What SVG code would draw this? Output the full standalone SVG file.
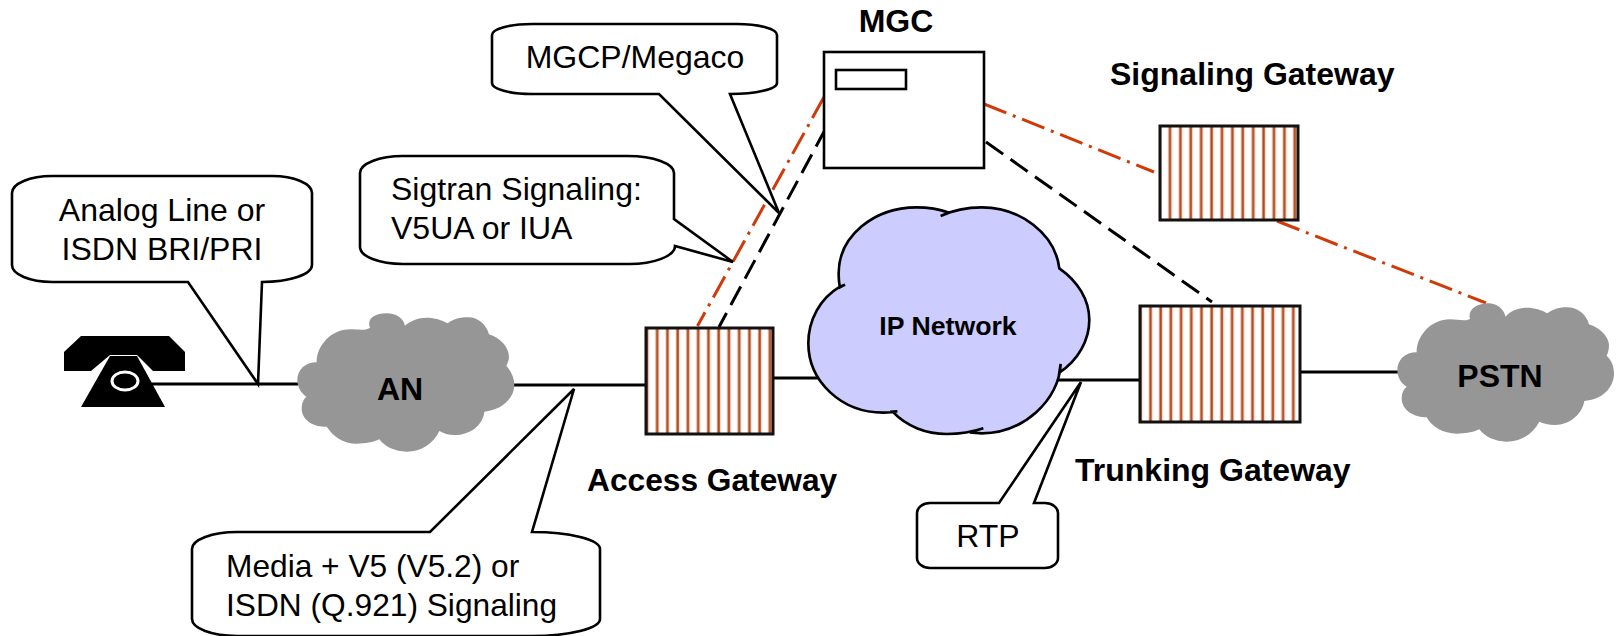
<svg xmlns="http://www.w3.org/2000/svg" width="1617" height="636" viewBox="0 0 1617 636">
<style>
text{font-family:"Liberation Sans",Arial,sans-serif;fill:#000}
.t{font-size:32px}
.b{font-size:32px;font-weight:bold}
.c{text-anchor:middle}
.call{fill:#fff;stroke:#000;stroke-width:2.600;stroke-linejoin:miter}
.gw{stroke:#111;stroke-width:3}
.cloud{fill:#969696}
.line{stroke:#000;stroke-width:3;fill:none}
.red{stroke:#d03a08;stroke-width:3;stroke-dasharray:24 7 3 7;fill:none}
.blk{stroke:#000;stroke-width:3;stroke-dasharray:21 9;fill:none}
</style>
<defs>
<pattern id="sa" patternUnits="userSpaceOnUse" x="654.700" y="0" width="10.250" height="10"><rect width="10.250" height="10" fill="#fff"/><rect x="0" width="5" height="10" fill="#f3e6df"/><rect x="1" width="3" height="10" fill="#dfae95"/><rect x="1.500" width="2" height="10" fill="#b4481a"/></pattern>
<pattern id="ss" patternUnits="userSpaceOnUse" x="1167.500" y="0" width="10.400" height="10"><rect width="10.400" height="10" fill="#fff"/><rect x="0" width="5" height="10" fill="#f3e6df"/><rect x="1" width="3" height="10" fill="#dfae95"/><rect x="1.500" width="2" height="10" fill="#b4481a"/></pattern>
<pattern id="st" patternUnits="userSpaceOnUse" x="1148" y="0" width="10.200" height="10"><rect width="10.200" height="10" fill="#fff"/><rect x="0" width="5" height="10" fill="#f3e6df"/><rect x="1" width="3" height="10" fill="#dfae95"/><rect x="1.500" width="2" height="10" fill="#b4481a"/></pattern>
</defs>

<g id="connectors">
<path class="line" d="M150 384H298"/>
<path class="line" d="M510 385H646"/>
<path class="line" d="M772 378H820"/>
<path class="line" d="M1058 380H1146"/>
<path class="line" d="M1298 372H1400"/>
<path class="red" d="M824 97L697.500 326"/>
<path class="blk" d="M826 128L719 327"/>
<path class="red" d="M984 104L1154 172"/>
<path class="blk" d="M986 142L1212 302"/>
<path class="red" d="M1277 221L1486 303"/>
</g>

<g id="phone">
<path d="M81 336H169L185 352V371H153L137 355H110L91 371H64V352Z" fill="#000"/>
<path d="M110 356H137L165 407H81Z" fill="#000"/>
<ellipse cx="125" cy="381" rx="13" ry="9" fill="#000" stroke="#fff" stroke-width="3"/>
</g>

<g id="an">
<path class="cloud" transform="translate(285 305) scale(.3333)" d="M255 68C245 45 265 25 305 25C335 25 355 40 360 62C375 48 400 38 425 38C450 38 470 45 488 55C505 42 525 37 550 37C580 37 605 60 612 88C650 100 672 130 672 155C672 165 668 175 664 182C680 200 688 220 688 240C688 280 650 315 598 320C595 360 555 390 510 390C490 390 475 385 463 378C445 415 410 440 365 440C330 440 300 425 283 403C265 412 240 416 215 416C175 416 145 395 125 365C85 368 50 345 50 310C50 295 55 283 64 275C48 265 37 245 37 225C37 195 60 172 95 172C95 120 140 73 195 73C220 73 240 78 255 68Z"/>
<text class="b c" x="400" y="400">AN</text>
</g>

<g id="pstn">
<path class="cloud" transform="translate(1390 295) scale(.3333)" d="M240 72C232 45 260 25 295 25C320 25 340 40 347 65C360 48 385 38 410 38C435 38 455 45 472 55C490 42 510 37 530 37C565 37 590 60 597 88C635 100 657 130 657 150C657 162 655 172 650 182C665 195 672 215 672 235C672 280 635 315 583 318C578 355 540 390 495 390C475 390 460 385 448 380C430 415 395 440 350 440C315 440 285 425 268 403C250 412 225 416 200 416C160 416 125 395 110 367C70 367 35 345 35 310C35 295 40 283 50 275C32 265 22 245 22 225C22 195 45 172 80 172C80 120 125 73 180 73C205 73 225 80 240 72Z"/>
<text class="b c" x="1500" y="387">PSTN</text>
</g>

<g id="ip-network">
<path transform="translate(790 200) scale(.3333)" fill="#ccccff" stroke="#000" stroke-width="8" d="M452 48C490 30 530 22 575 22C690 22 795 100 808 205C865 245 898 300 898 360C898 420 865 480 808 518L812 492C808 600 700 700 575 700C565 700 555 698 540 697L580 685C545 697 510 702 470 702C410 702 350 680 308 635L322 634C310 637 295 638 280 638C155 638 55 545 55 430C55 360 90 295 150 260L165 254L150 262C147 250 146 235 146 220C146 110 250 22 380 22C420 22 455 30 478 38Z"/>
<text x="948" y="335" class="c" style="font-size:26.670px;font-weight:bold">IP Network</text>
</g>

<g id="access-gateway">
<rect class="gw" x="646" y="328" width="127" height="106" fill="url(#sa)"/>
<text class="b" x="587" y="491" style="font-size:31.700px">Access Gateway</text>
</g>
<g id="trunking-gateway">
<rect class="gw" x="1140" y="306" width="160" height="116" fill="url(#st)"/>
<text class="b" x="1075" y="481">Trunking Gateway</text>
</g>
<g id="signaling-gateway">
<rect class="gw" x="1160" y="126" width="138" height="94" fill="url(#ss)"/>
<text class="b" x="1110" y="85">Signaling Gateway</text>
</g>
<g id="mgc">
<rect x="824" y="52" width="160" height="116" fill="#fff" stroke="#000" stroke-width="2.600"/>
<rect x="836" y="70" width="70" height="19" fill="#fff" stroke="#000" stroke-width="2.600"/>
<text class="b c" x="896" y="32">MGC</text>
</g>

<g id="callout-line">
<path class="call" d="M52 176H272A40 17 0 0 1 312 193V265A50 17 0 0 1 262 282L258 384L188 282H52A40 17 0 0 1 12 265V193A40 17 0 0 1 52 176Z"/>
<text class="t c" x="162" y="221">Analog Line or</text>
<text class="t c" x="162" y="260">ISDN BRI/PRI</text>
</g>
<g id="callout-sigtran">
<path class="call" d="M403 156H628A46 17 0 0 1 674 173V219L733 262L675 246A46 18 0 0 1 628 264H403A43 17 0 0 1 360 247V173A43 17 0 0 1 403 156Z"/>
<text class="t" x="391" y="200">Sigtran Signaling:</text>
<text class="t" x="391" y="239">V5UA or IUA</text>
</g>
<g id="callout-mgcp">
<path class="call" d="M532 24H737A40 11 0 0 1 777 35V83A47 11 0 0 1 730 94L779 213L659 94H532A40 11 0 0 1 492 83V35A40 11 0 0 1 532 24Z"/>
<text class="t c" x="635" y="68">MGCP/Megaco</text>
</g>
<g id="callout-media">
<path class="call" d="M237 532H430L574 389L532 532A68 17 0 0 1 600 549V619A68 17 0 0 1 532 636H237A45 17 0 0 1 192 619V549A45 17 0 0 1 237 532Z"/>
<text class="t" x="226" y="577" style="font-size:31.700px">Media + V5 (V5.2) or</text>
<text class="t" x="226" y="616" style="font-size:31.700px">ISDN (Q.921) Signaling</text>
</g>
<g id="callout-rtp">
<path class="call" d="M930 503H999L1081 382L1034 503H1045A13 10 0 0 1 1058 513V558A13 10 0 0 1 1045 568H930A13 10 0 0 1 917 558V513A13 10 0 0 1 930 503Z"/>
<text class="t c" x="988" y="547">RTP</text>
</g>
</svg>
